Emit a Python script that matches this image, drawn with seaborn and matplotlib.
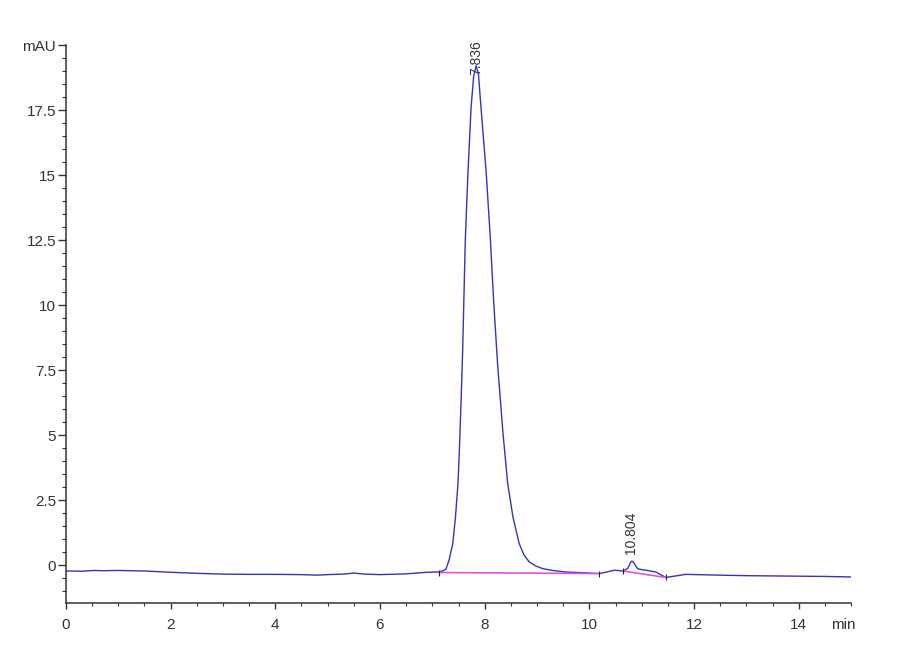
import matplotlib
matplotlib.use("Agg")
import matplotlib.pyplot as plt
from matplotlib.ticker import MultipleLocator
import seaborn as sns
import pandas as pd

# chromatogram trace (time in min, signal in mAU)
time_min = [0.0, 0.3, 0.55, 0.7, 1.0, 1.5, 2.0, 2.5, 3.0, 3.5, 4.0, 4.5, 4.8, 5.0,
            5.3, 5.5, 5.7, 6.0, 6.5, 6.9, 7.1,
            7.2, 7.26, 7.32, 7.39, 7.44, 7.49, 7.52, 7.55, 7.58, 7.60, 7.63, 7.68,
            7.74, 7.79, 7.836, 7.88, 7.93, 8.03, 8.11, 8.17, 8.25, 8.35, 8.44,
            8.54, 8.66, 8.75, 8.85, 8.98, 9.11, 9.3, 9.55, 9.9, 10.19,
            10.35, 10.48, 10.64, 10.73, 10.80, 10.83, 10.92, 11.0, 11.08, 11.27,
            11.46, 11.62, 11.84, 12.48, 13.0, 13.5, 14.0, 14.5, 15.0]
signal_mau = [-0.22, -0.23, -0.20, -0.21, -0.20, -0.22, -0.27, -0.31, -0.34, -0.35,
              -0.35, -0.36, -0.38, -0.36, -0.34, -0.30, -0.34, -0.36, -0.33, -0.27, -0.26,
              -0.22, -0.15, 0.2, 0.83, 1.8, 3.14, 4.6, 6.35, 8.3, 10.0, 12.5, 15.07,
              17.6, 18.8, 19.2, 18.9, 17.6, 15.07, 12.5, 10.2, 7.63, 5.07, 3.14,
              1.86, 0.83, 0.40, 0.13, -0.03, -0.13, -0.20, -0.26, -0.29, -0.32,
              -0.25, -0.19, -0.22, -0.13, 0.15, 0.15, -0.13, -0.17, -0.19, -0.26,
              -0.47, -0.42, -0.35, -0.38, -0.40, -0.41, -0.42, -0.43, -0.45]

# integration baselines (start, end) and their levels
base1_t = [7.12, 10.19]
base1_v = [-0.28, -0.32]
base2_t = [10.64, 11.46]
base2_v = [-0.22, -0.47]

# peak labels
peak_rt = [7.836, 10.804]
peak_label_y = [18.85, 0.45]
peak_labels = ["7.836", "10.804"]

y_ticks = [0, 2.5, 5, 7.5, 10, 12.5, 15, 17.5, 20]
y_ticklabels = ["0", "2.5", "5", "7.5", "10", "12.5", "15", "17.5", "mAU"]
x_ticks = [0, 2, 4, 6, 8, 10, 12, 14]

sns.set_style("ticks")
plt.rcParams["font.family"] = ["Liberation Sans Narrow", "Liberation Sans", "DejaVu Sans"]

fig = plt.figure(figsize=(9, 6.6), dpi=100)
ax = fig.add_axes([0.0733, 0.0864, 0.8723, 0.8454])

trace = pd.DataFrame({"t": time_min, "v": signal_mau})
sns.lineplot(data=trace, x="t", y="v", ax=ax, color="#3535b8", linewidth=1.0,
             sort=False, estimator=None)
ax.plot(base1_t, base1_v, color="#dd55dd", linewidth=1.2)
ax.plot(base2_t, base2_v, color="#dd55dd", linewidth=1.2)

# integration event marks
ax.plot(base1_t + base2_t, base1_v + base2_v, linestyle="none", marker="|",
        markersize=5, color="#222222", markeredgewidth=0.8)

for rt, ly, lab in zip(peak_rt, peak_label_y, peak_labels):
    ax.text(rt, ly, lab, rotation=90, ha="center", va="bottom", fontsize=10,
            color="#333333", family=["Liberation Sans", "DejaVu Sans"])

ax.set_xlim(0, 15)
ax.set_ylim(-1.45, 20)
ax.set_xticks(x_ticks)
ax.set_xticklabels([str(x) for x in x_ticks])
ax.set_yticks(y_ticks)
ax.set_yticklabels(y_ticklabels)
ax.xaxis.set_minor_locator(MultipleLocator(0.5))
ax.yaxis.set_minor_locator(MultipleLocator(0.5))
ax.set_xlabel("")
ax.set_ylabel("")

ax.tick_params(axis="x", which="major", length=4.5, width=1.0, pad=6,
               labelsize=11, colors="#333333")
ax.tick_params(axis="x", which="minor", length=2.5, width=0.8, colors="#333333")
ax.tick_params(axis="y", which="major", length=6, width=1.0, pad=1,
               labelsize=11, colors="#333333")
ax.tick_params(axis="y", which="minor", length=3, width=0.8, colors="#333333")

for side in ["top", "right"]:
    ax.spines[side].set_visible(False)
for side in ["left", "bottom"]:
    ax.spines[side].set_linewidth(1.1)
    ax.spines[side].set_color("#333333")

ax.annotate("min", xy=(14.85, 0), xycoords=("data", "axes fraction"),
            xytext=(0, -10.5), textcoords="offset points", ha="center", va="top",
            fontsize=11, color="#333333")

fig.savefig("out.png", dpi=100)
plt.close(fig)
